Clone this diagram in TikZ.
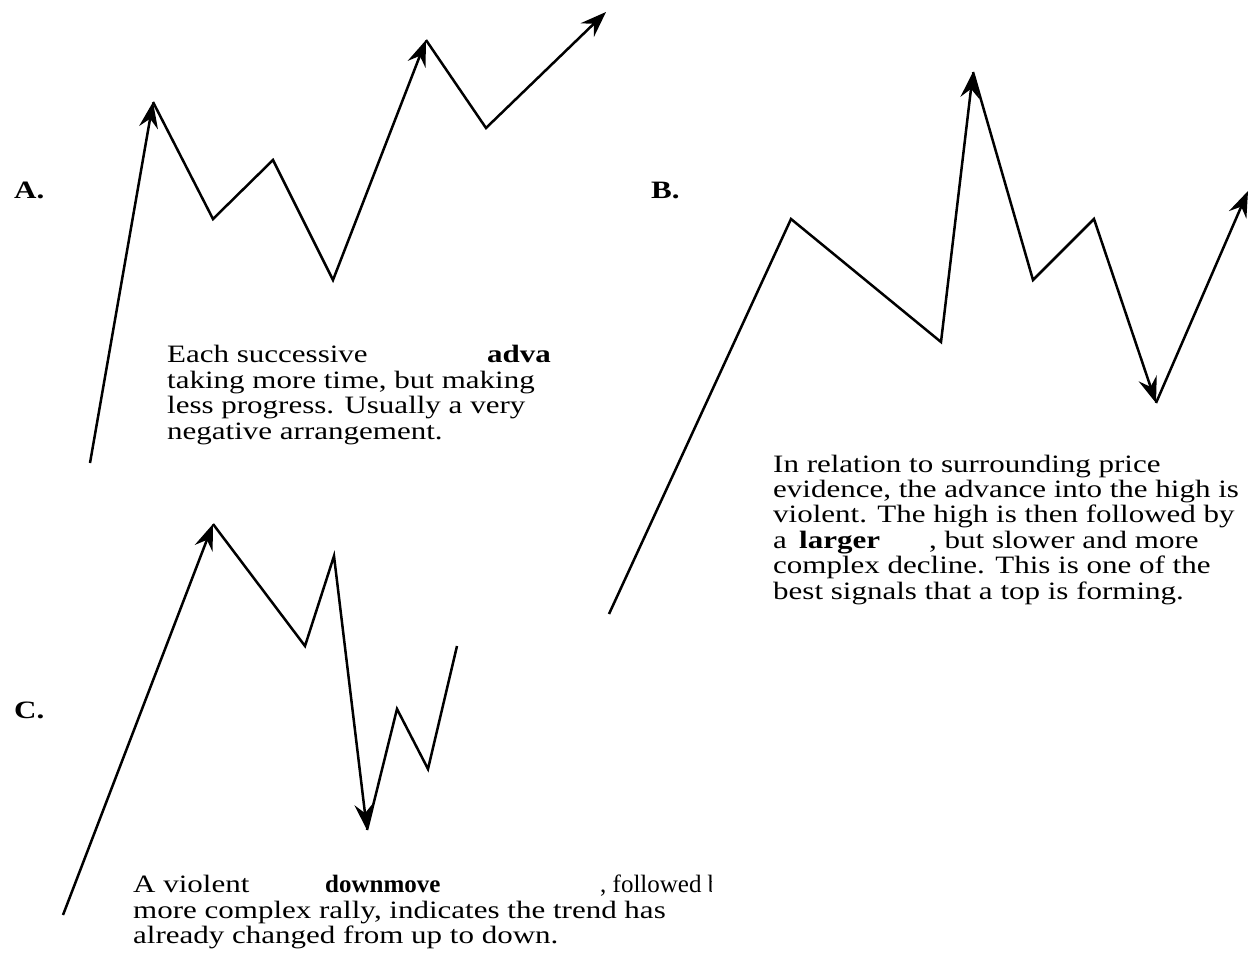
\documentclass[tikz,border=0pt]{standalone}
\usepackage{fontspec}
\setmainfont{Liberation Serif}[FakeStretch=1.24]
\newfontfamily\narrowserif{Liberation Serif}
\usetikzlibrary{arrows.meta}

\tikzset{
  leg/.style={line width=2.5pt, line join=miter},
  legtip/.style={leg, -{Stealth[length=26pt, width=19pt, inset=9pt]}},
  txt/.style={font=\fontsize{25}{26}\selectfont, anchor=base west, inner sep=0pt},
  btxt/.style={txt, font=\fontsize{25}{26}\selectfont\bfseries},
  ntxt/.style={txt, font=\fontsize{25}{26}\selectfont\narrowserif},
  tag/.style={font=\fontsize{25}{26}\selectfont\bfseries, anchor=base west, inner sep=0pt},
}

\begin{document}
\begin{tikzpicture}[x=1pt, y=-1pt]
  \useasboundingbox (0,0) rectangle (1253,961);

  % --- A: successive advances
  \node[tag] (lblA) at (14,198) {A.};
  \coordinate (a0) at (90,463);
  \coordinate (a1) at (153,102);
  \coordinate (a2) at (213,219);
  \coordinate (a3) at (273,160);
  \coordinate (a4) at (333,280);
  \coordinate (a5) at (426,40);
  \coordinate (a6) at (486,128);
  \coordinate (a7) at (606,12);
  \draw[legtip] (a0) -- (a1);
  \draw[legtip] (a1) -- (a2) -- (a3) -- (a4) -- (a5);
  \draw[legtip] (a5) -- (a6) -- (a7);
  \node[txt]  (tA1)  at (167,362) {Each successive};
  \node[btxt] (tA1b) at (487,362) {adva};
  \node[txt]  (tA2)  at (167,388) {taking more time, but making};
  \node[txt]  (tA3)  at (167,413) {less progress. Usually a very};
  \node[txt]  (tA4)  at (167,439) {negative arrangement.};

  % --- B: violent advance, slower decline
  \node[tag] (lblB) at (651,198) {B.};
  \coordinate (b0) at (609,614);
  \coordinate (b1) at (791,219);
  \coordinate (b2) at (941,342);
  \coordinate (b3) at (973,72);
  \coordinate (b4) at (1033,280);
  \coordinate (b5) at (1094,219);
  \coordinate (b6) at (1156,403);
  \coordinate (b7) at (1248,191);
  \draw[legtip] (b0) -- (b1) -- (b2) -- (b3);
  \draw[legtip] (b3) -- (b4) -- (b5) -- (b6);
  \draw[legtip] (b6) -- (b7);
  \node[txt]  (tB1)  at (773,472) {In relation to surrounding price};
  \node[txt]  (tB2)  at (773,497) {evidence, the advance into the high is};
  \node[txt]  (tB3)  at (773,522) {violent. The high is then followed by};
  \node[txt]  (tB4)  at (773,548) {a};
  \node[btxt] (tB4b) at (799,548) {larger};
  \node[txt]  (tB4c) at (929,548) {, but slower and more};
  \node[txt]  (tB5)  at (773,573) {complex decline. This is one of the};
  \node[txt]  (tB6)  at (773,599) {best signals that a top is forming.};

  % --- C: violent downmove, complex rally
  \node[tag] (lblC) at (14,718) {C.};
  \coordinate (c0) at (63,915);
  \coordinate (c1) at (213,524);
  \coordinate (c2) at (305,646);
  \coordinate (c3) at (334,556);
  \coordinate (c4) at (367,830);
  \coordinate (c5) at (397,709);
  \coordinate (c6) at (428,769);
  \coordinate (c7) at (457,646);
  \draw[legtip] (c0) -- (c1);
  \draw[legtip] (c1) -- (c2) -- (c3) -- (c4);
  \draw[leg] (c4) -- (c5) -- (c6) -- (c7);
  \node[txt]  (tC1)  at (133,892) {A violent};
  \node[btxt, font=\fontsize{25}{26}\selectfont\narrowserif\bfseries] (tC1b) at (325,892) {downmove};
  \begin{scope}
    \clip (590,860) rectangle (711,900);
    \node[ntxt] (tC1c) at (600,892) {, followed by};
  \end{scope}
  \node[txt]  (tC2)  at (133,918) {more complex rally, indicates the trend has};
  \node[txt]  (tC3)  at (133,943) {already changed from up to down.};
\end{tikzpicture}
\end{document}
